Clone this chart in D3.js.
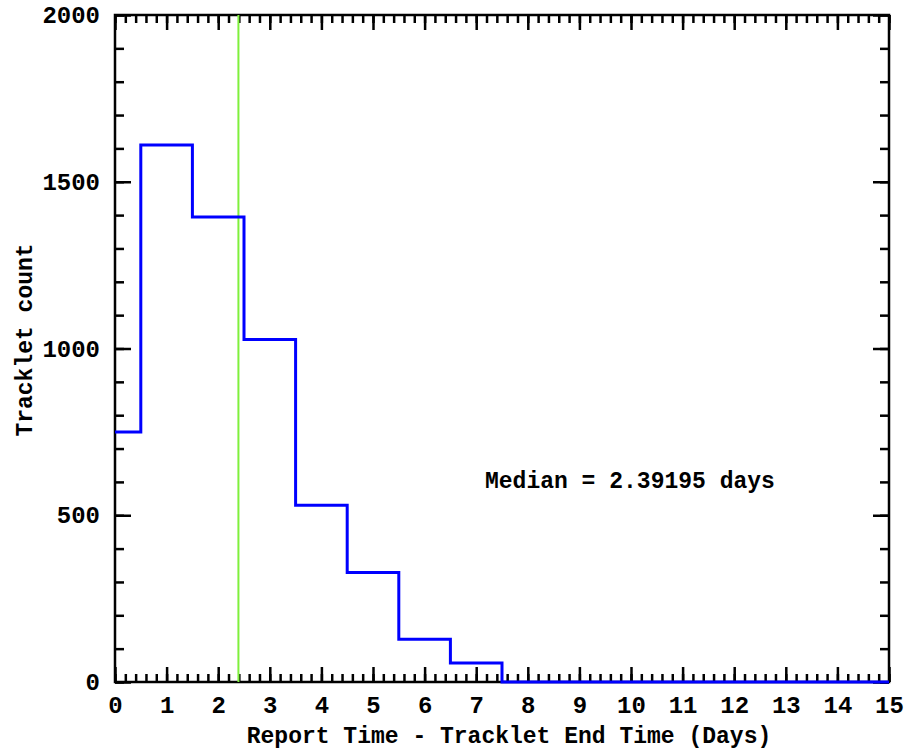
<!DOCTYPE html>
<html>
<head>
<meta charset="utf-8">
<script src="https://cdn.jsdelivr.net/npm/d3@7"></script>
<style>
  html, body { margin: 0; padding: 0; background: #fff; }
  svg { display: block; }
  text { font-family: "Liberation Mono", "DejaVu Sans Mono", monospace; font-weight: bold; fill: #000; }
</style>
</head>
<body>
<svg id="chart" width="908" height="753"></svg>
<script>
// Data
const binEdges = [0, 0.5, 1.5, 2.5, 3.5, 4.5, 5.5, 6.5, 7.5, 15];
const counts = [750, 1610, 1394, 1027, 530, 328, 128, 57, 0];
const medianValue = 2.39195;
const xTicks = d3.range(0, 16, 1);
const yTicks = [0, 500, 1000, 1500, 2000];
const xLabel = "Report Time - Tracklet End Time (Days)";
const yLabel = "Tracklet count";
const medianLabel = "Median = 2.39195 days";

const svg = d3.select("#chart");
const L = 115, R = 889, T = 15, B = 682;
const x = d3.scaleLinear().domain([0, 15]).range([L, R]);
const y = d3.scaleLinear().domain([0, 2000]).range([B, T]);
const fs = 23;
const tfs = 24;

// axes
function styleAxis(g) {
  g.select(".domain").remove();
  g.selectAll(".tick line").attr("stroke", "#000").attr("stroke-width", 2.5);
}
const xMinor = d3.range(0, 15.0001, 0.2).map(v => +v.toFixed(2));
const yMinor = d3.range(0, 2001, 100);

// bottom
svg.append("g").attr("transform", `translate(0,${B})`)
  .call(d3.axisBottom(x).tickValues(xMinor).tickSize(-8).tickFormat(""))
  .call(styleAxis);
const bx = svg.append("g").attr("transform", `translate(0,${B})`)
  .call(d3.axisBottom(x).tickValues(xTicks).tickSize(-15).tickPadding(14).tickFormat(d3.format("d")))
  .call(styleAxis);
bx.selectAll("text").attr("font-size", tfs).attr("font-family", null).attr("dy", "0.71em");
// top
svg.append("g").attr("transform", `translate(0,${T})`)
  .call(d3.axisTop(x).tickValues(xMinor).tickSize(-8).tickFormat(""))
  .call(styleAxis);
svg.append("g").attr("transform", `translate(0,${T})`)
  .call(d3.axisTop(x).tickValues(xTicks).tickSize(-15).tickFormat(""))
  .call(styleAxis);
// left
svg.append("g").attr("transform", `translate(${L},0)`)
  .call(d3.axisLeft(y).tickValues(yMinor).tickSize(-9).tickFormat(""))
  .call(styleAxis);
const ly = svg.append("g").attr("transform", `translate(${L},0)`)
  .call(d3.axisLeft(y).tickValues(yTicks).tickSize(-16).tickPadding(15).tickFormat(d3.format("d")))
  .call(styleAxis);
ly.selectAll("text").attr("font-size", tfs).attr("font-family", null);
// right
svg.append("g").attr("transform", `translate(${R},0)`)
  .call(d3.axisRight(y).tickValues(yMinor).tickSize(-9).tickFormat(""))
  .call(styleAxis);
svg.append("g").attr("transform", `translate(${R},0)`)
  .call(d3.axisRight(y).tickValues(yTicks).tickSize(-16).tickFormat(""))
  .call(styleAxis);

// frame
svg.append("rect")
  .attr("x", L).attr("y", T).attr("width", R - L).attr("height", B - T)
  .attr("fill", "none").attr("stroke", "#000").attr("stroke-width", 2.5);

// median line
svg.append("line")
  .attr("x1", x(medianValue)).attr("x2", x(medianValue))
  .attr("y1", y(2000)).attr("y2", y(0))
  .attr("stroke", "#7ff03c").attr("stroke-width", 2);

// histogram step
const pts = binEdges.map((e, i) => [e, i < counts.length ? counts[i] : counts[counts.length - 1]]);
const line = d3.line().x(d => x(d[0])).y(d => y(d[1])).curve(d3.curveStepAfter);
svg.append("path")
  .attr("d", line(pts))
  .attr("fill", "none")
  .attr("stroke", "#0000ff")
  .attr("stroke-width", 3)
  .attr("stroke-linejoin", "miter");

// labels
svg.append("text").attr("x", 509).attr("y", 743)
  .attr("text-anchor", "middle").attr("font-size", fs).text(xLabel);
svg.append("text").attr("transform", `translate(32,${340}) rotate(-90)`)
  .attr("text-anchor", "middle").attr("font-size", fs).text(yLabel);
svg.append("text").attr("x", 485).attr("y", 488)
  .attr("font-size", fs).text(medianLabel);
</script>
</body>
</html>
